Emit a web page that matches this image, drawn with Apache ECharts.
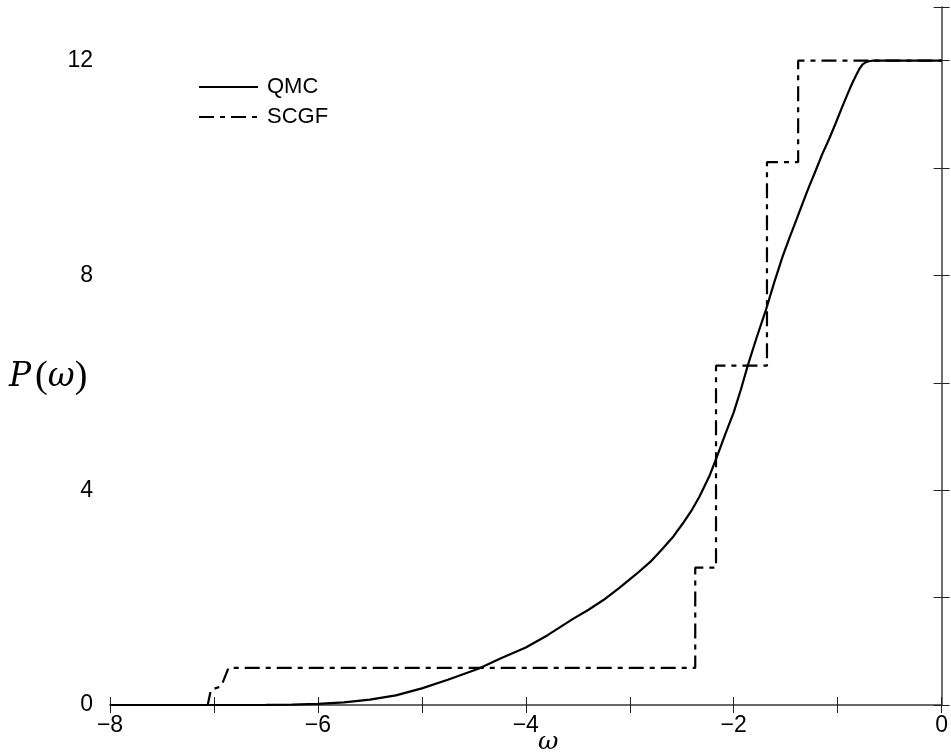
<!DOCTYPE html>
<html>
<head>
<meta charset="utf-8">
<script src="https://cdn.jsdelivr.net/npm/echarts@6/dist/echarts.min.js"></script>
<style>html,body{margin:0;padding:0;background:#fff}#c{width:951px;height:755px}</style>
</head>
<body>
<div id="c"></div>
<script>
// QMC curve: omega values and P values
var qmcX = [-8, -7, -6.5, -6.25, -6, -5.75, -5.5, -5.25, -5, -4.75, -4.45, -4.25, -4, -3.79, -3.55, -3.4, -3.25, -3.1, -2.93, -2.8, -2.68, -2.58, -2.49, -2.4, -2.33, -2.23, -2.15, -2.08, -2.0, -1.93, -1.865, -1.78, -1.69, -1.61, -1.53, -1.46, -1.4, -1.34, -1.28, -1.21, -1.15, -1.08, -1.02, -0.96, -0.9, -0.86, -0.82, -0.79, -0.76, -0.73, -0.7, -0.66, 0];
var qmcY = [0, 0, 0.003, 0.008, 0.02, 0.05, 0.1, 0.18, 0.31, 0.47, 0.68, 0.86, 1.07, 1.3, 1.6, 1.77, 1.96, 2.18, 2.45, 2.67, 2.92, 3.14, 3.38, 3.64, 3.88, 4.28, 4.68, 5.05, 5.45, 5.88, 6.32, 6.84, 7.36, 7.87, 8.35, 8.72, 9.02, 9.33, 9.63, 9.96, 10.25, 10.55, 10.83, 11.12, 11.4, 11.58, 11.74, 11.85, 11.93, 11.97, 11.99, 12.0, 12.0];
// SCGF staircase: corner points
var scgfX = [-8, -7.06, -7.03, -6.93, -6.86, -2.37, -2.37, -2.17, -2.17, -1.68, -1.68, -1.38, -1.38, 0];
var scgfY = [0, 0, 0.28, 0.35, 0.69, 0.69, 2.56, 2.56, 6.32, 6.32, 10.11, 10.11, 12.0, 12.0];
var xTicks = [-8, -6, -4, -2, 0];
var yTicks = [0, 4, 8, 12];

function zip(a, b) { return a.map(function (v, i) { return [v, b[i]]; }); }
function fmtX(v) { return xTicks.indexOf(v) >= 0 ? String(v).replace('-', '\u2212') : ''; }
function fmtY(v) { return yTicks.indexOf(v) >= 0 ? String(v) : ''; }

var font = 'Liberation Sans, Arial, Helvetica, sans-serif';
var axisLine = { show: true, lineStyle: { color: '#666', width: 1.5 } };
var tick = { show: true, inside: true, length: 8, lineStyle: { color: '#222', width: 1 } };

var chart = echarts.init(document.getElementById('c'), null, { renderer: 'canvas' });
chart.setOption({
  animation: false,
  backgroundColor: '#fff',
  grid: { left: 110, right: 4, top: 7, bottom: 50, containLabel: false },
  legend: {
    orient: 'vertical', left: 193, top: 71, itemWidth: 59, itemHeight: 16, itemGap: 8,
    itemStyle: { opacity: 0, borderWidth: 0 },
    textStyle: { fontFamily: font, fontSize: 22, color: '#000', padding: [0, 0, 0, 4] },
    data: ['QMC', 'SCGF']
  },
  xAxis: [
    { type: 'value', min: -8, max: 0, interval: 1, position: 'bottom',
      axisLine: { show: true, lineStyle: { color: '#444', width: 1.5 } }, axisTick: tick, splitLine: { show: false },
      axisLabel: { formatter: fmtX, fontFamily: font, fontSize: 23, color: '#000', margin: 9, showMaxLabel: true, showMinLabel: true } },
    { type: 'value', min: -8, max: 0, interval: 1, position: 'top',
      axisLine: axisLine, axisTick: tick, splitLine: { show: false }, axisLabel: { show: false } }
  ],
  yAxis: [
    { type: 'value', min: 0, max: 13, interval: 2, position: 'left',
      axisLine: axisLine, axisTick: tick, splitLine: { show: false },
      axisLabel: { formatter: fmtY, fontFamily: font, fontSize: 23, color: '#000', margin: 17 } },
    { type: 'value', min: 0, max: 13, interval: 2, position: 'right',
      axisLine: axisLine, axisTick: tick, splitLine: { show: false }, axisLabel: { show: false } }
  ],
  graphic: [
    { type: 'text', left: 9, top: 358,
      style: { text: '{i|P}{s| }{n|(}{i|ω}{n|)}', rich: {
        i: { fontFamily: 'DejaVu Serif, Liberation Serif, serif', fontStyle: 'italic', fontSize: 33, fill: '#000' },
        s: { fontSize: 14 },
        n: { fontFamily: 'Liberation Serif, DejaVu Serif, serif', fontSize: 38, fill: '#000' } } } },
    { type: 'text', left: 538, top: 730,
      style: { text: 'ω', fontFamily: 'DejaVu Serif, Liberation Serif, serif', fontStyle: 'italic', fontSize: 25, fill: '#000' } }
  ],
  series: [
    { name: 'QMC', type: 'line', data: zip(qmcX, qmcY), showSymbol: false, symbol: 'none',
      smooth: false, lineStyle: { color: '#000', width: 2.2 }, itemStyle: { color: '#000' }, z: 3 },
    { name: 'SCGF', type: 'line', data: zip(scgfX, scgfY), showSymbol: false, symbol: 'none',
      lineStyle: { color: '#000', width: 2.2, type: [15, 6, 5, 6] }, itemStyle: { color: '#000' }, z: 2 }
  ]
});
</script>
</body>
</html>
